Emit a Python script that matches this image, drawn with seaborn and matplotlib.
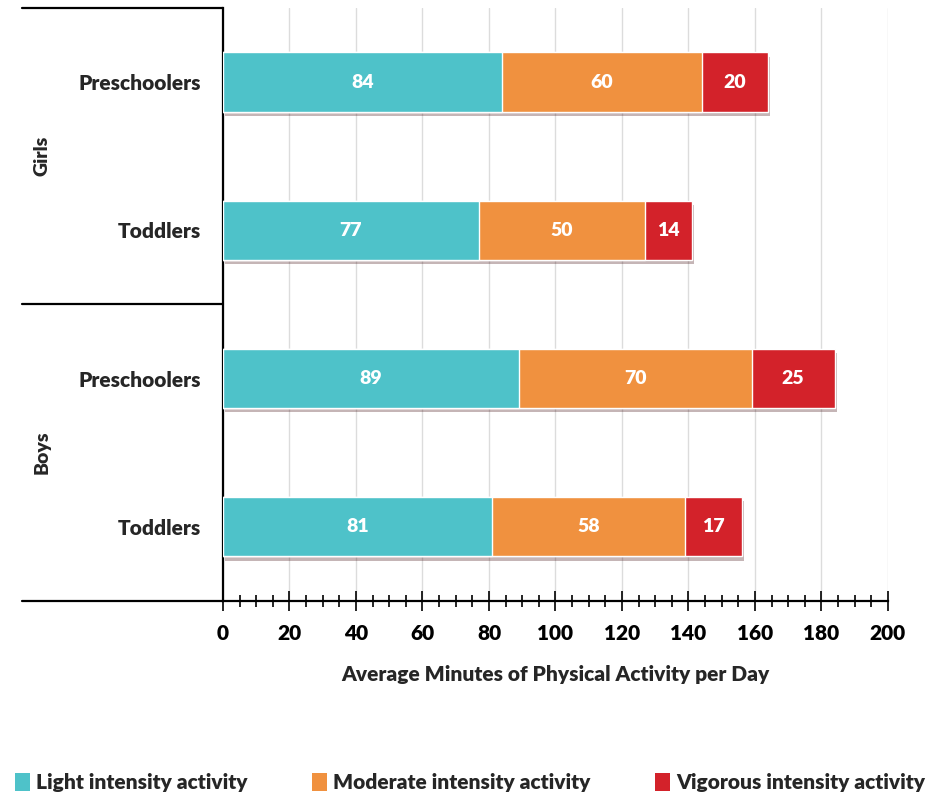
import pandas as pd
import seaborn as sns
import matplotlib.pyplot as plt
import matplotlib.patheffects as pe
import matplotlib.transforms as mtransforms
from matplotlib.patches import Patch
from matplotlib.ticker import MultipleLocator

groups = ["Girls", "Girls", "Boys", "Boys"]
ages = ["Preschoolers", "Toddlers", "Preschoolers", "Toddlers"]
light = [84, 77, 89, 81]
moderate = [60, 50, 70, 58]
vigorous = [20, 14, 25, 17]

series = ["Light intensity activity", "Moderate intensity activity", "Vigorous intensity activity"]
colors = ["#4EC2C9", "#F0913F", "#D3222A"]

sns.set_style("white")
plt.rcParams["font.family"] = ["Lato", "DejaVu Sans"]
plt.rcParams["font.weight"] = "heavy"
W = "heavy"

df = pd.DataFrame({
    "row": [g + " " + a for g, a in zip(groups, ages)],
    "light": light,
    "moderate": moderate,
    "vigorous": vigorous,
})
df["end_light"] = df["light"]
df["end_moderate"] = df["end_light"] + df["moderate"]
df["end_vigorous"] = df["end_moderate"] + df["vigorous"]

fig = plt.figure(figsize=(9.4, 8.07), dpi=100)
ax = fig.add_axes([0.2372, 0.2553, 0.7074, 0.7348])

# stacked bars: draw cumulative totals back to front
for col, color in zip(["end_vigorous", "end_moderate", "end_light"], colors[::-1]):
    sns.barplot(data=df, x=col, y="row", color=color, width=0.4, saturation=1,
                errorbar=None, ax=ax, zorder=3)

# soft drop shadow under the full bars only
for p in ax.containers[0]:
    p.set_path_effects([pe.SimplePatchShadow(offset=(1.5, -3), alpha=0.3), pe.Normal()])

# value labels in each segment
starts = [[0] * 4, list(df["end_light"]), list(df["end_moderate"])]
for vals, st in zip([light, moderate, vigorous], starts):
    for i, (v, s) in enumerate(zip(vals, st)):
        ax.text(s + v / 2, i, str(v), ha="center", va="center", color="white",
                fontsize=14, fontweight=W, zorder=5)

ax.set_xlim(0, 200)
ax.set_ylim(3.5, -0.5)
ax.xaxis.set_major_locator(MultipleLocator(20))
ax.xaxis.set_minor_locator(MultipleLocator(5))
ax.tick_params(axis="x", which="major", direction="inout", length=15, width=1.2,
               colors="black", labelsize=15, pad=9, bottom=True)
ax.tick_params(axis="x", which="minor", direction="inout", length=9, width=1.2,
               colors="black", bottom=True)
ax.tick_params(axis="y", length=0, labelsize=15, pad=16)
ax.set_yticks(range(len(ages)))
ax.set_yticklabels(ages)
ax.grid(axis="x", which="major", color="#dcdcdc", linewidth=1, zorder=0)
ax.set_axisbelow(True)

for side in ["top", "right"]:
    ax.spines[side].set_visible(False)
for side in ["left", "bottom"]:
    ax.spines[side].set_color("black")
    ax.spines[side].set_linewidth(1.6)

ax.set_xlabel("Average Minutes of Physical Activity per Day", fontsize=15,
              fontweight=W, labelpad=16)
ax.set_ylabel("")

# group separators and group labels on the left
trans = mtransforms.blended_transform_factory(ax.transAxes, ax.transData)
for y in [-0.5, 1.5, 3.5]:
    ax.plot([-0.302, 0], [y, y], transform=trans, color="black", lw=1.6, clip_on=False)
for name, y in [("Girls", 0.5), ("Boys", 2.5)]:
    ax.text(-0.272, y, name, transform=trans, rotation=90, ha="center", va="center",
            fontsize=14, fontweight=W)

handles = [Patch(facecolor=c, edgecolor="none") for c in colors]
fig.legend(handles, series, loc="lower center", bbox_to_anchor=(0.5, -0.005), ncol=3,
           frameon=False, fontsize=15, handlelength=0.7, handleheight=0.9,
           handletextpad=0.3, columnspacing=3.1)

fig.savefig("out.png", dpi=100)
